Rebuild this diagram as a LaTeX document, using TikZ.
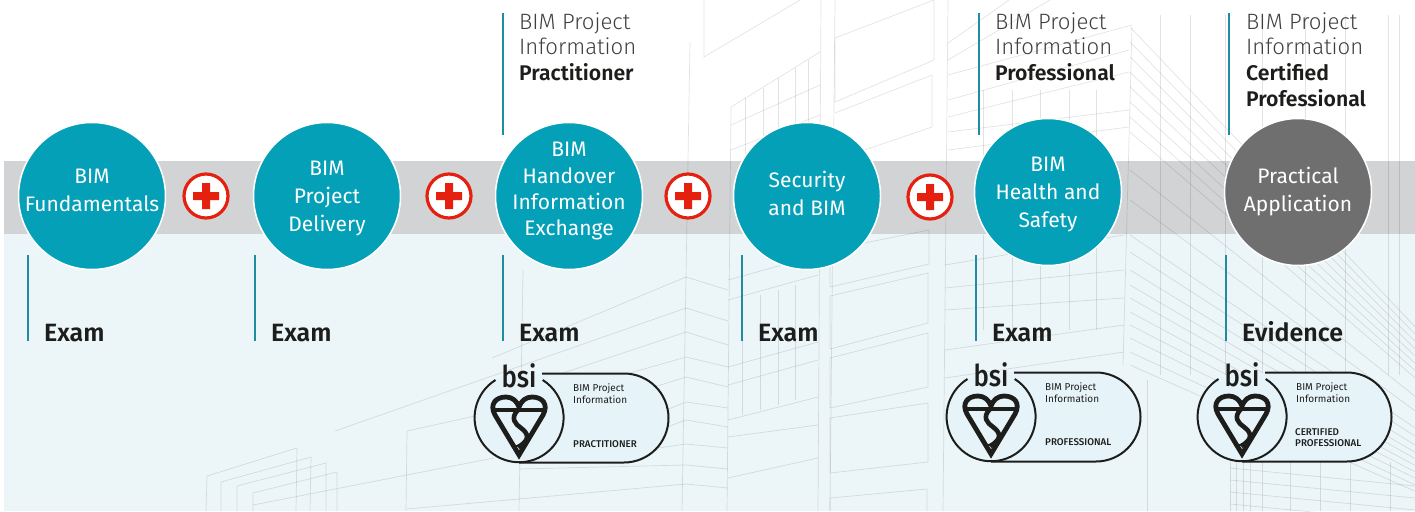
\documentclass[tikz,border=0pt]{standalone}
\usepackage{fontspec}
\setmainfont{Fira Sans}
\newfontfamily\bimlight{Fira Sans Light}
\newfontfamily\bimsemi{Fira Sans SemiBold}
\newfontfamily\bimmedium{Fira Sans Medium}
\usetikzlibrary{positioning}
\definecolor{bimteal}{HTML}{03A0B7}
\definecolor{bimrule}{HTML}{1E8DA1}
\definecolor{bimband}{HTML}{D1D3D5}
\definecolor{bimpale}{HTML}{ECF5F8}
\definecolor{bimpill}{HTML}{E6F4F9}
\definecolor{bimgrey}{HTML}{6F6F6F}
\definecolor{bimred}{HTML}{E6200F}
\definecolor{bimink}{HTML}{1D1D1B}
\tikzset{
	course/.style={circle,draw=white,line width=1.5pt,fill=bimteal,minimum size=147pt,inner sep=0pt},
	coursetext/.style={inner sep=0pt,align=center,text=white,font=\fontsize{21}{28}\selectfont},
	plusmark/.style={circle,draw=bimred,line width=3.2pt,fill=white,minimum size=44pt,inner sep=0pt,
		path picture={\fill[bimred,shift={(path picture bounding box.center)}] (-13,-4) rectangle (13,4) (-4,-13) rectangle (4,13);}},
	rulemark/.style={draw=bimrule,line width=1.5pt},
	outcome/.style={anchor=base west,inner sep=0pt,text=bimink,font=\bimsemi\fontsize{25}{26}\selectfont},
	award/.style={anchor=base west,inner sep=0pt,text=bimink!85,font=\bimlight\fontsize{22.2}{26}\selectfont},
	awardbold/.style={anchor=base west,inner sep=0pt,text=bimink,font=\bimsemi\fontsize{21.2}{26}\selectfont},
	tower/.style={draw=black,opacity=0.11,line width=0.7pt},
	badgeline/.style={anchor=base west,inner sep=0pt,text=bimink,font=\fontsize{10}{11}\selectfont},
	badgelevel/.style={anchor=base west,inner sep=0pt,text=bimink,font=\bimmedium\fontsize{9.8}{11}\selectfont}
}
\newcommand{\bsibadge}[4]{
	\begin{scope}[shift={(#2,#3)}]
		\fill[bimpill] (0,-44.5) -- (105,-44.5) arc[start angle=90,end angle=-90,radius=44.5pt] -- (0,44.5) arc[start angle=-90,end angle=-270,radius=44.5pt] -- cycle;
		\draw[bimink,line width=2pt] (23,-44.5) -- (105,-44.5) arc[start angle=90,end angle=-90,radius=44.5pt] -- (0,44.5);
		\draw[bimink,line width=2pt] (-23.5,-38) arc[start angle=122,end angle=418,radius=44.5pt];
		\draw[bimink,line width=4.8pt,line join=miter] (0,37) -- (-24,-3) .. controls (-30,-14) and (-23,-21) .. (-13,-21) .. controls (-7,-21) and (-2,-17) .. (0,-11) .. controls (2,-17) and (7,-21) .. (13,-21) .. controls (23,-21) and (30,-14) .. (24,-3) -- cycle;
		\draw[bimink,line width=4.4pt] (-26,-8) -- (26,-8);
		\draw[bimink,line width=4.6pt] (-1,-8) .. controls (-9,0) and (-4,6) .. (2,10) .. controls (9,15) and (12,22) .. (-1,29);
		\draw[bimink,line width=2.8pt] (-8,28) -- (8,28);
		\node[anchor=base,inner sep=0pt,xscale=0.86,text=bimink,font=\bimmedium\fontsize{30}{30}\selectfont] (#1-bsi) at (0,-31) {bsi};
		\node[badgeline] (#1-title) at (54,-27) {BIM Project};
		\node[badgeline] (#1-sub) at (54,-15) {Information};
		#4
	\end{scope}
}
\begin{document}
\begin{tikzpicture}[x=1pt,y=-1pt]
	\useasboundingbox (0,0) rectangle (1415,511);
	\fill[bimpale] (4,234) rectangle (1415,511);
	\fill[bimband] (4,161) rectangle (1415,234);
	% building lines
	\begin{scope}
		\clip (4,0) rectangle (1415,511);
		\draw[tower] (207,476) -- (297,448) -- (296,511) (207,476) -- (206,511);
		\draw[tower] (221,482) -- (311,457) -- (310,511) (221,482) -- (221,511);
		\draw[tower] (237,486) -- (326,463) -- (326,511) (237,486) -- (237,511);
		\draw[tower] (253,493) -- (337,472) -- (337,511) (253,493) -- (253,511) (253,505) -- (494,458);
		\draw[tower] (407,431) -- (475,416) (407,431) -- (406,511);
		\draw[tower] (335,431) -- (686,308) (492,358) -- (686,277);
		\draw[tower] (523,270) -- (519,511) (690,42) -- (682,511) (731,107) -- (727,511);
		\foreach \ya/\xb/\yb/\yc in {332/551/377/345,357/616/377/367,377/651/388/387,402/666/410/408,420/667/427/427,444/658/448/448,465/519/469/469,484/407/509/488}
			\draw[tower] (\xb,\yb) -- (686,\ya) -- (728,\yc);
		\draw[tower] (686,277) -- (728,290) (686,308) -- (728,321);
		% middle block
		\draw[tower] (704,0) -- (704,57) -- (800,0);
		\draw[tower] (821,0) -- (818,511) (835,0) -- (830,511) (948,0) -- (943,511);
		\draw[tower] (731,107) -- (820,52) (731,125) -- (820,85) (731,150) -- (820,115);
		\foreach \xa/\ya/\yb in {745/98/225,763/88/225,778/78/225,795/68/225,808/60/225}
			\draw[tower] (\xa,\ya) -- (\xa,\yb);
		\foreach \ya/\yb in {280/255,300/275,367/342,385/360,420/397,437/425,478/458}
			\draw[tower] (728,\ya) -- (818,\yb);
		\foreach \xa/\ya/\yb in {742/300/415,760/295/410,778/290/405,795/285/400}
			\draw[tower] (\xa,\ya) -- (\xa,\yb);
		\draw[tower] (835,38) -- (934,0) (934,0) -- (934,60) -- (835,102) -- (835,38);
		\draw[tower] (835,113) -- (932,75) -- (932,127) -- (835,160);
		\foreach \xa/\ya/\xb/\yb/\xc/\yc/\xd/\yd in {830/287/929/264/929/230/830/250,830/296/928/273/928/323/830/349,830/358/928/333/928/387/830/408,830/418/928/403/928/462/830/473}
			\draw[tower] (\xa,\ya) -- (\xb,\yb) -- (\xc,\yc) (\xa,\ya) -- (\xd,\yd) (\xd,\yd) -- (\xc,\yc);
		\draw[tower] (830,511) -- (830,498) -- (927,489) -- (927,511);
		% tower front
		\draw[tower] (948,43) -- (1009,0) (948,60) -- (1050,0) (948,75) -- (1132,25) (948,100) -- (1129,50) (948,117) -- (1129,72) (948,132) -- (1129,110) (948,150) -- (1129,127);
		\foreach \ya/\yb in {265/235,288/270,310/298,350/325,378/352}
			\draw[tower] (945,\ya) -- (1124,\yb);
		\foreach \xa in {983,1012,1040,1069,1096} {
			\draw[tower] (\xa,90) -- (\xa,160);
			\draw[tower] (\xa,235) -- (\xa,330);
		}
		\draw[tower] (1132,27) -- (1123,365);
		% tower side
		\foreach \ya in {27,42,57,72,87,102,117,132,170,200,235,252,270,285,298,312,325,338,352,365}
			\draw[tower] (1130,\ya) -- ++(285,{285*(1.1-0.0018*\ya)});
		\foreach \xa in {1160,1190,1225,1262,1305,1345,1388,1399}
			\draw[tower] (\xa,15) -- (\xa,375);
		\foreach \xa in {1230,1236,1243,1250,1262,1290,1320,1350,1390}
			\draw[tower] (\xa,462) -- (\xa,511);
		\foreach \ya in {468,480,492,504}
			\draw[tower] (1230,\ya) -- (1415,\ya+18);
		\draw[tower] (1147,380) -- (1147,511);
	\end{scope}
	% course circles
	\node[course] (fund) at (92,196) {};
	\node[course] (deli) at (327,196) {};
	\node[course] (hand) at (569,196) {};
	\node[course] (secu) at (807,196) {};
	\node[course] (heal) at (1048,192) {};
	\node[course,fill=bimgrey] (prac) at (1298,192) {};
	\node[coursetext] (fundtext) at ([yshift=5.5pt]fund) {BIM\\Fundamentals};
	\node[coursetext] (delitext) at ([yshift=-2.5pt]deli) {BIM\\Project\\Delivery};
	\node[coursetext,font=\fontsize{21}{26}\selectfont] (handtext) at ([yshift=5pt]hand) {BIM\\Handover\\Information\\Exchange};
	\node[coursetext] (secutext) at ([yshift=3pt]secu) {Security\\and BIM};
	\node[coursetext] (healtext) at ([yshift=-2.5pt]heal) {BIM\\Health and\\Safety};
	\node[coursetext] (practext) at (prac) {Practical\\Application};
	\node[plusmark] (plus1) at (206,196) {};
	\node[plusmark] (plus2) at (449,196) {};
	\node[plusmark] (plus3) at (688,196) {};
	\node[plusmark] (plus4) at (930,197) {};
	% rules
	\foreach \xa in {503,979,1229}
		\draw[rulemark] (\xa,13) -- (\xa,135);
	\foreach \xa in {28,255,503,742,976,1226}
		\draw[rulemark] (\xa,255) -- (\xa,341);
	% awards
	\foreach \xa/\nm/\lvl in {519/a/Practitioner,995/b/Professional,1246/c/Certified} {
		\node[award] (title\nm) at (\xa,29.5) {BIM Project};
		\node[award] (info\nm) at (\xa,55) {Information};
		\node[awardbold] (level\nm) at (\xa,80) {\lvl};
	}
	\node[awardbold] (levelcc) at (1246,106) {Professional};
	\node[outcome] (exam1) at (44,341) {Exam};
	\node[outcome] (exam2) at (271,341) {Exam};
	\node[outcome] (exam3) at (519,341) {Exam};
	\node[outcome] (exam4) at (758,341) {Exam};
	\node[outcome] (exam5) at (992,341) {Exam};
	\node[outcome] (evid) at (1242,341) {Evidence};
	% badges
	\bsibadge{b1}{519}{418}{\node[badgelevel] (b1-level) at (54,29) {PRACTITIONER};}
	\bsibadge{b2}{991}{417}{\node[badgelevel] (b2-level) at (54,28) {PROFESSIONAL};}
	\bsibadge{b3}{1242}{417}{\node[badgelevel] (b3-level) at (53,18) {CERTIFIED};
		\node[badgelevel] (b3-levelb) at (53,29) {PROFESSIONAL};}
\end{tikzpicture}
\end{document}
